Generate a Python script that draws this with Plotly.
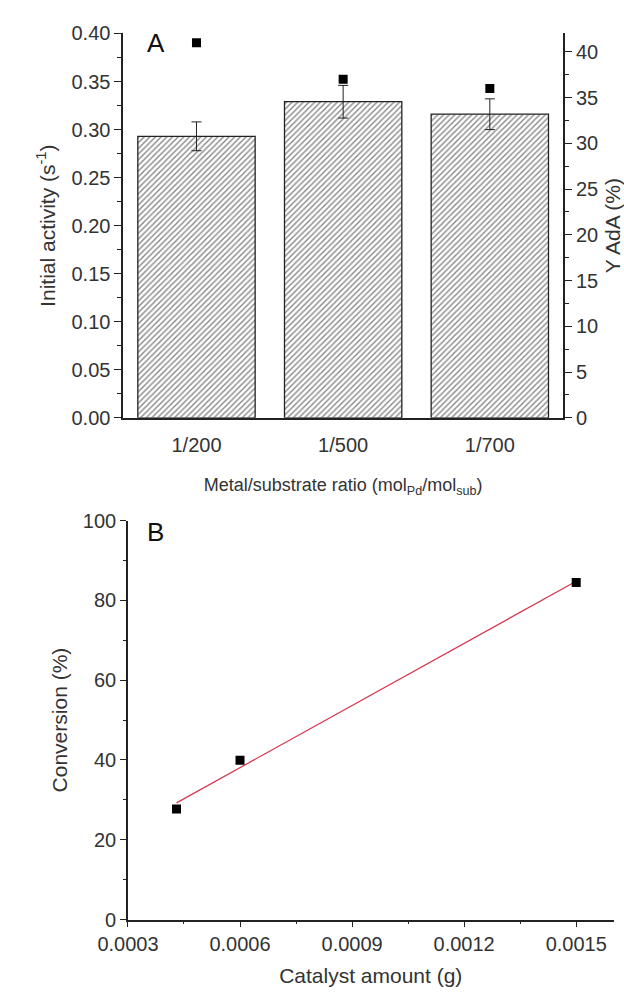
import numpy as np
import plotly.graph_objects as go

# ---- Data ----
ratios = ["1/200", "1/500", "1/700"]
initial_activity = [0.293, 0.329, 0.316]
activity_err = [0.015, 0.017, 0.016]
yield_ada = [41, 37, 36]

catalyst_g = [0.00043, 0.0006, 0.0015]
conversion = [27.7, 39.9, 84.5]

FONT = "Liberation Sans, Arial, sans-serif"
TXT = "#333333"
AX = "#222222"

slope, intercept = np.polyfit(catalyst_g, conversion, 1)
fit_x = [min(catalyst_g), max(catalyst_g)]
fit_y = [slope * v + intercept for v in fit_x]

fig = go.Figure()

fig.add_trace(go.Bar(
    x=ratios, y=initial_activity, width=0.8,
    marker=dict(color="white", line=dict(color="#222222", width=1.3),
                pattern=dict(shape="/", fgcolor="#111111", bgcolor="white", size=4, solidity=0.35)),
    error_y=dict(type="data", array=activity_err, color="#222222", thickness=1, width=5),
    xaxis="x", yaxis="y", showlegend=False))

fig.add_trace(go.Scatter(
    x=ratios, y=yield_ada, mode="markers",
    marker=dict(symbol="square", size=9, color="black"),
    xaxis="x", yaxis="y2", showlegend=False))

fig.add_trace(go.Scatter(
    x=fit_x, y=fit_y, mode="lines", line=dict(color="#d7334a", width=1.2),
    xaxis="x2", yaxis="y3", showlegend=False))

fig.add_trace(go.Scatter(
    x=catalyst_g, y=conversion, mode="markers",
    marker=dict(symbol="square", size=9, color="black"),
    xaxis="x2", yaxis="y3", showlegend=False))

axcommon = dict(showline=True, linecolor=AX, linewidth=1.5, showgrid=False, zeroline=False,
                tickfont=dict(family=FONT, size=20, color=TXT), tickcolor=AX, ticks="outside")

fig.update_layout(
    width=624, height=1000, margin=dict(l=0, r=0, t=0, b=0),
    paper_bgcolor="white", plot_bgcolor="white",
    font=dict(family=FONT, color=TXT),
    xaxis=dict(axcommon, domain=[0.1554, 0.8974], anchor="y", type="category", range=[-0.5, 2.5],
               ticks="", ticklabelstandoff=8,
               title=dict(text="Metal/substrate ratio (mol<sub>Pd</sub>/mol<sub>sub</sub>)",
                          font=dict(family=FONT, size=18, color=TXT), standoff=24)),
    yaxis=dict(axcommon, domain=[0.584, 0.977], anchor="x", range=[0, 0.4], dtick=0.05,
               tickformat=".2f", ticklen=7,
               minor=dict(ticks="outside", dtick=0.025, ticklen=4, tickcolor=AX),
               title=dict(text="Initial activity (s<sup>-1</sup>)",
                          font=dict(family=FONT, size=21, color=TXT), standoff=10)),
    yaxis2=dict(axcommon, overlaying="y", side="right", anchor="x", range=[0, 42], dtick=5, ticklen=7,
                minor=dict(ticks="outside", dtick=2.5, ticklen=4, tickcolor=AX),
                title=dict(text="Y AdA (%)", font=dict(family=FONT, size=21, color=TXT), standoff=8)),
    xaxis2=dict(axcommon, domain=[0.1635, 0.9824], anchor="y3", range=[0.0003, 0.0016],
                tick0=0.0003, dtick=0.0003, tickformat=".4f", exponentformat="none", ticklen=6,
                minor=dict(ticks="outside", dtick=0.00015, ticklen=3, tickcolor=AX),
                title=dict(text="Catalyst amount (g)", font=dict(family=FONT, size=21, color=TXT), standoff=14)),
    yaxis3=dict(axcommon, domain=[0.071, 0.479], anchor="x2", range=[0, 100], dtick=20, ticklen=6,
                minor=dict(ticks="outside", dtick=10, ticklen=3, tickcolor=AX),
                title=dict(text="Conversion (%)", font=dict(family=FONT, size=21, color=TXT), standoff=9)),
    annotations=[
        dict(text="A", x=0.05, y=1.02, xref="x domain", yref="y domain", xanchor="left", yanchor="top",
             showarrow=False, font=dict(family=FONT, size=26, color="#111111")),
        dict(text="B", x=0.035, y=1.015, xref="x2 domain", yref="y3 domain", xanchor="left", yanchor="top",
             showarrow=False, font=dict(family=FONT, size=26, color="#111111")),
    ],
)

fig.write_html("out.html")
